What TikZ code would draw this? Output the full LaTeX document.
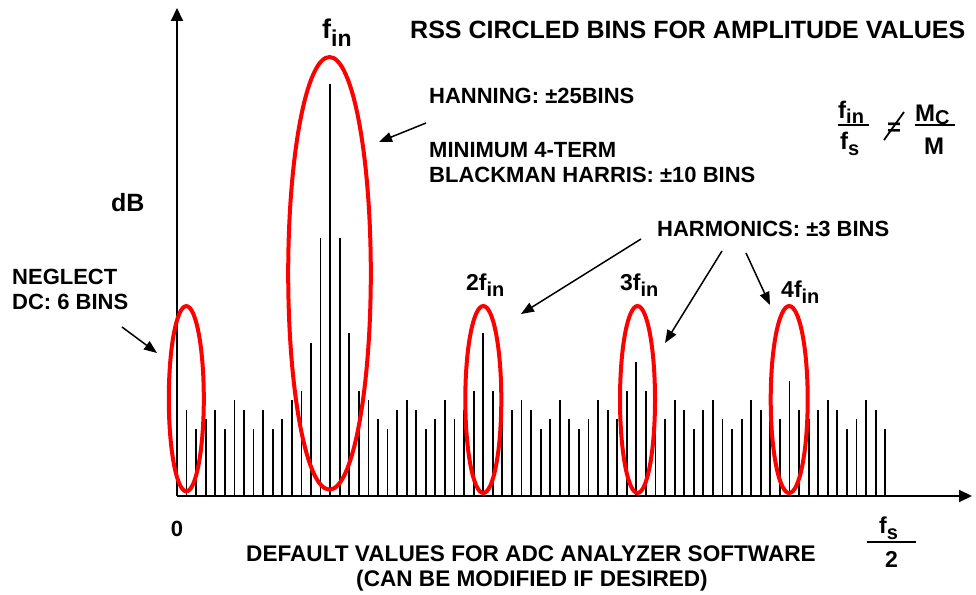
\documentclass[tikz,border=0pt]{standalone}
\usepackage{fontspec}
\setmainfont{Liberation Sans}
\usetikzlibrary{arrows.meta}
\newcommand\mysub[3]{\raisebox{-#1}{\fontsize{#2}{#2}\selectfont #3}}
\begin{document}
\begin{tikzpicture}[x=1pt,y=-1pt,
  lbl/.style={font=\fontsize{22}{25}\selectfont\bfseries, inner sep=0pt},
  btm/.style={font=\fontsize{22.6}{25}\selectfont\bfseries, inner sep=0pt},
  ttl/.style={font=\fontsize{25}{28}\selectfont\bfseries, inner sep=0pt},
  harm/.style={font=\fontsize{23}{24}\selectfont\bfseries, inner sep=0pt},
  formula/.style={font=\fontsize{24}{25}\selectfont\bfseries, inner sep=0pt},
  axisline/.style={line width=2pt, -{Triangle[length=13pt,width=12pt]}},
  binline/.style={line width=1.8pt},
  ring/.style={draw=red, line width=4pt},
  pointer/.style={line width=1.5pt, -{Triangle[length=13pt,width=10pt]}},
  fracbar/.style={line width=1.8pt}]
\useasboundingbox (0,0) rectangle (976,594);
% axes
\coordinate (O) at (177,496);
\coordinate (xend) at (972,496);
\coordinate (yend) at (177,8);
% bins
\foreach \h [count=\k] in {9,7,8,9,7,10,9,7,9,7,8,10,11,16,27,43,27,17,11,10,8,7,9,10,9,7,8,10,8,9,11,17,11,8,9,10,9,7,8,10,8,7,8,10,9,8,11,14,11,9,8,10,9,7,9,10,8,7,8,10,9,8,8,12,9,8,9,10,9,7,8,10,9,7}
  \draw[binline] ({177+9.57*\k},496) -- ++(0,{-9.57*\h});
\draw[axisline] (O) -- (xend);
\draw[axisline] (O) -- (yend);
% circles
\draw[ring] (186.3,398.7) ellipse [x radius=17.5, y radius=92.6];
\draw[ring] (329.5,273.3) ellipse [x radius=41.3, y radius=216.3];
\draw[ring] (483.3,399.5) ellipse [x radius=18, y radius=93.5];
\draw[ring] (637.5,399.5) ellipse [x radius=17.5, y radius=93.5];
\draw[ring] (789.2,399.5) ellipse [x radius=18.5, y radius=93.5];
% texts
\node[ttl, anchor=base west] (title) at (410,39) {RSS CIRCLED BINS FOR AMPLITUDE VALUES};
\node[lbl, anchor=base west] (fin) at (322,38) {{\fontsize{27}{27}\selectfont f}\mysub{8pt}{23}{in}};
\node[lbl, anchor=base west] (hann) at (429,103) {HANNING: ±25BINS};
\node[lbl, anchor=base west] (mini) at (429,157) {MINIMUM 4-TERM};
\node[lbl, anchor=base west] (black) at (429,182) {BLACKMAN HARRIS: ±10 BINS};
\node[lbl, anchor=base west, font=\fontsize{25}{27}\selectfont\bfseries] (dB) at (111,211) {dB};
\node[lbl, anchor=base west] (negl) at (12,284) {NEGLECT};
\node[lbl, anchor=base west] (dc) at (12,309) {DC: 6 BINS};
\node[lbl, anchor=base west] (harmo) at (657,236) {HARMONICS: ±3 BINS};
\node[harm, anchor=base west] (f2) at (466,290) {2f\mysub{6pt}{20}{in}};
\node[harm, anchor=base west] (f3) at (620,290) {3f\mysub{6pt}{20}{in}};
\node[harm, anchor=base west] (f4) at (781,297) {4f\mysub{6pt}{20}{in}};
\node[lbl, anchor=base] (zero) at (177,536) {0};
\node[btm, anchor=base] (def) at (531,561) {DEFAULT VALUES FOR ADC ANALYZER SOFTWARE};
\node[btm, anchor=base] (can) at (532,586) {(CAN BE MODIFIED IF DESIRED)};
% fs/2
\node[harm, anchor=base west] (fs) at (879,533) {f\mysub{6pt}{20}{s}};
\coordinate (fsbl) at (867,542);
\coordinate (fsbr) at (916,542);
\draw[fracbar] (fsbl) -- (fsbr);
\node[harm, anchor=base] (two) at (891.5,567) {2};
% formula
\node[formula, anchor=base west] (num1) at (838,118) {f\mysub{5pt}{20}{in}};
\coordinate (b1l) at (838,125);
\coordinate (b1r) at (869,125);
\draw[fracbar] (b1l) -- (b1r);
\node[formula, anchor=base west] (den1) at (840,149) {f\mysub{6pt}{20}{s}};
\node[formula, anchor=base] (neq) at (894,135) {=};
\coordinate (sl1) at (884,140);
\coordinate (sl2) at (904,112);
\draw[line width=1.8pt] (sl1) -- (sl2);
\node[formula, anchor=base west] (num2) at (915,121) {M\mysub{3pt}{20}{C}};
\coordinate (b2l) at (915,125);
\coordinate (b2r) at (955,125);
\draw[fracbar] (b2l) -- (b2r);
\node[formula, anchor=base] (den2) at (934,154) {M};
% pointers
\coordinate (t1) at (379,142);
\coordinate (s1) at (426,123);
\draw[pointer] (s1) -- (t1);
\coordinate (t2) at (157,353);
\coordinate (s2) at (122,327);
\draw[pointer] (s2) -- (t2);
\coordinate (t3) at (521,314);
\coordinate (s3) at (641,239);
\draw[pointer] (s3) -- (t3);
\coordinate (t4) at (665,343);
\coordinate (s4) at (722,251);
\draw[pointer] (s4) -- (t4);
\coordinate (t5) at (770,305);
\coordinate (s5) at (746,253);
\draw[pointer] (s5) -- (t5);
\end{tikzpicture}
\end{document}
